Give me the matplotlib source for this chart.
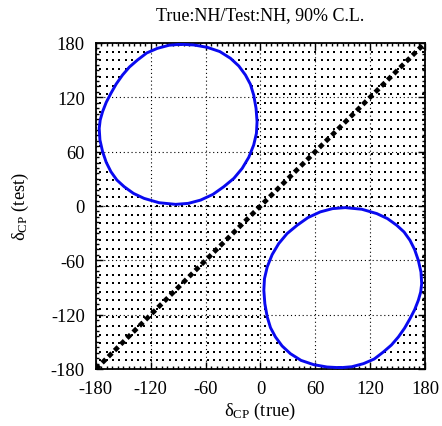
import numpy as np
import matplotlib
matplotlib.use("Agg")
import matplotlib.pyplot as plt
from matplotlib.path import Path

plt.rcParams['font.family'] = ['Liberation Serif', 'DejaVu Serif']
plt.rcParams['mathtext.fontset'] = 'custom'
plt.rcParams['mathtext.rm'] = 'Liberation Serif'
plt.rcParams['mathtext.it'] = 'Liberation Serif:italic'
plt.rcParams['mathtext.default'] = 'regular'
plt.rcParams['axes.unicode_minus'] = False

# 90% C.L. allowed region, upper-left island
upper_x = [-87.3, -100.0, -112.7, -124.4, -134.5, -143.3, -150.9, -157.8, -163.6,
           -168.7, -172.7, -175.3, -176.4, -175.6, -172.7, -168.7, -163.6, -157.1,
           -149.1, -138.9, -127.3, -110.9, -92.8, -78.9, -65.5, -52.0, -40.1,
           -29.1, -20.0, -12.8, -7.4, -4.4, -3.7, -4.8, -7.4, -11.0, -16.4,
           -23.7, -32.8, -44.4, -58.2, -72.8, -87.3]
upper_y = [178.6, 177.5, 174.1, 169.0, 161.2, 153.5, 144.6, 134.7, 124.4,
           114.5, 104.2, 95.0, 85.7, 72.9, 60.0, 48.2, 37.9, 28.7,
           21.3, 13.9, 8.4, 3.6, 1.8, 2.9, 6.5, 12.8, 21.3,
           30.5, 41.5, 53.7, 67.3, 80.2, 93.1, 107.8, 122.5, 134.4, 144.6,
           154.6, 163.1, 170.5, 175.2, 177.8, 178.6]

# lower-right island
lower_x = [87.3, 100.0, 112.7, 124.4, 134.5, 143.3, 150.9, 157.8, 163.6,
           168.7, 172.7, 175.3, 176.4, 175.6, 172.7, 168.7, 163.6, 157.1,
           149.1, 138.9, 127.3, 110.9, 92.8, 78.9, 65.5, 52.0, 40.1,
           29.1, 20.0, 12.8, 7.4, 4.4, 3.7, 4.8, 7.4, 11.0, 16.4,
           23.7, 32.8, 44.4, 58.2, 72.8, 87.3]
lower_y = [-178.6, -177.5, -174.1, -169.0, -161.2, -153.5, -144.6, -134.7, -124.4,
           -114.5, -104.2, -95.0, -85.7, -72.9, -60.0, -48.2, -37.9, -28.7,
           -21.3, -13.9, -8.4, -3.6, -1.8, -2.9, -6.5, -12.8, -21.3,
           -30.5, -41.5, -53.7, -67.3, -80.2, -93.1, -107.8, -122.5, -134.4, -144.6,
           -154.6, -163.1, -170.5, -175.2, -177.8, -178.6]

diag = [-180, 180]
ticks = [-180, -120, -60, 0, 60, 120, 180]

fig = plt.figure(figsize=(4.42, 4.27), dpi=100)
ax = fig.add_axes([0.217, 0.1335, 0.7445, 0.7635])

# excluded region shown as a dot pattern
gx, gy = np.meshgrid(np.arange(-175.3, 180, 6.92), np.arange(-170.5, 175, 360 / 38))
pts = np.column_stack([gx.ravel(), gy.ravel()])
inside = Path(np.column_stack([upper_x, upper_y])).contains_points(pts) | \
    Path(np.column_stack([lower_x, lower_y])).contains_points(pts)
out = pts[~inside]
ax.scatter(out[:, 0], out[:, 1], s=3.6, marker='s', color='black', linewidths=0, zorder=1)

ax.plot(upper_x, upper_y, color='#0a0af0', lw=2.1, zorder=3)
ax.plot(lower_x, lower_y, color='#0a0af0', lw=2.1, zorder=3)
ax.plot(diag, diag, color='black', lw=3.4, linestyle=(0, (1.1, 0.75)), zorder=4)

ax.set_xlim(-180, 180)
ax.set_ylim(-180, 180)
ax.set_xticks(ticks)
ax.set_yticks(ticks)
ax.set_xticks(np.arange(-180, 181, 6), minor=True)
ax.set_yticks(np.arange(-180, 181, 6), minor=True)
ax.tick_params(which='both', direction='in', top=True, right=True, width=1.0, colors='black')
ax.tick_params(which='major', length=5, labelsize=13.3, pad=8)
ax.tick_params(which='minor', length=2.5)
ax.grid(True, which='major', color='black', linestyle=(0, (1, 2.5)), linewidth=0.8)
for s in ax.spines.values():
    s.set_linewidth(1.3)

ax.set_xlabel(r'$\delta_{CP}$ (true)', fontsize=13.3, labelpad=2)
ax.set_ylabel(r'$\delta_{CP}$ (test)', fontsize=13.3, labelpad=14)
ax.set_title('True:NH/Test:NH, 90% C.L.', fontsize=13, pad=17)

fig.savefig('out.png', dpi=100)
